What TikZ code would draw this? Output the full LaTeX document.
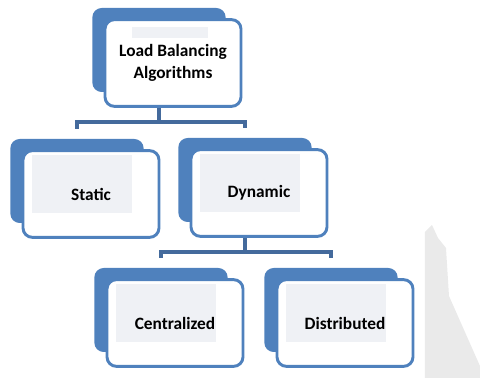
\documentclass[tikz,border=0pt]{standalone}
\usepackage{fontspec}
\setmainfont{Carlito}
\usetikzlibrary{calc}
\definecolor{lbblue}{RGB}{79,129,189}
\definecolor{lbline}{RGB}{68,106,156}
\definecolor{lbgray}{RGB}{239,241,245}
\definecolor{lbshade}{RGB}{234,234,234}
\tikzset{
  backbox/.style={fill=lbblue, rounded corners=7pt, minimum width=100pt, minimum height=63pt, inner sep=0pt},
  frontbox/.style={draw=lbblue, line width=2.2pt, fill=white, rounded corners=7pt,
    minimum width=102pt, minimum height=65pt, inner sep=0pt, align=center,
    font=\bfseries\fontsize{13}{16}\selectfont,
    path picture={\fill[lbgray, sharp corners] ($(path picture bounding box.north west)+(9,4)$) rectangle ($(path picture bounding box.south east)+(-27,-24)$);}},
  topbox/.style={path picture={\fill[lbgray, sharp corners] ($(path picture bounding box.north west)+(27,7)$) rectangle ($(path picture bounding box.north east)+(-33,18)$);}},
  conn/.style={draw=lbline, line width=3pt},
}
% back plate + front box, #1 name, #2 x, #3 y, #4 text, #5 extra style
\newcommand{\lbbox}[5][]{
  \node[backbox] (#2b) at ($(#3,#4)+(-14,-13)$) {};
  \node[frontbox, #1] (#2) at (#3,#4) {#5};
}

\begin{document}
\begin{tikzpicture}[x=0.75pt, y=-0.75pt]
\useasboundingbox (0,0) rectangle (480,378);

% shadow at the right edge
\fill[lbshade] (425,378) -- (425,232) -- (432,225) -- (438,238) -- (446,248) -- (449,296) -- (480,366) -- (480,378) -- cycle;

% level 1
\lbbox[topbox]{alg}{173}{63}{Load Balancing\\Algorithms}

% level 2
\lbbox{sta}{91}{194}{Static}
\lbbox{dyn}{259}{193}{Dynamic}

% level 3
\lbbox{cen}{175}{323}{Centralized}
\lbbox{dis}{345}{323}{Distributed}

% connectors
\draw[conn] (algb |- alg.south) -- ++(0,14) coordinate (hub1);
\draw[conn] ($(stab.north)+(0,-10)$) |- (hub1) -| ($(dynb.north)+(0,-10)$);

\draw[conn] (dynb |- dyn.south) -- ++(0,14) coordinate (hub2);
\draw[conn] ($(cenb.north)+(0,-10)$) |- (hub2) -| ($(disb.north)+(0,-10)$);
\end{tikzpicture}
\end{document}
